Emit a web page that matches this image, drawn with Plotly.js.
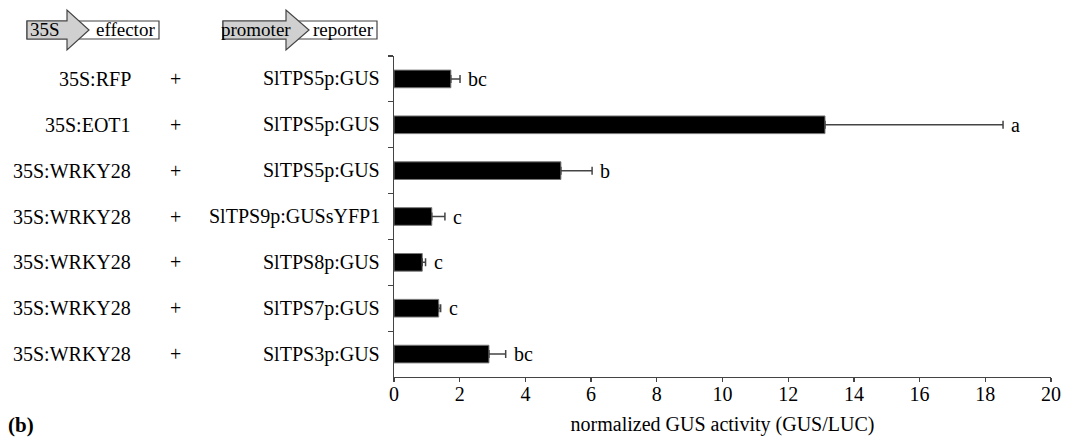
<!DOCTYPE html>
<html>
<head>
<meta charset="utf-8">
<script src="https://cdn.plot.ly/plotly-3.0.1.min.js"></script>
<style>html,body{margin:0;padding:0;background:#fff;}#chart{width:1072px;height:441px;}</style>
</head>
<body>
<div id="chart"></div>
<script>
const effectors = ["35S:RFP","35S:EOT1","35S:WRKY28","35S:WRKY28","35S:WRKY28","35S:WRKY28","35S:WRKY28"];
const reporters = ["SlTPS5p:GUS","SlTPS5p:GUS","SlTPS5p:GUS","SlTPS9p:GUSsYFP1","SlTPS8p:GUS","SlTPS7p:GUS","SlTPS3p:GUS"];
const values = [1.73, 13.12, 5.08, 1.15, 0.86, 1.36, 2.89];
const errors = [0.28, 5.42, 0.95, 0.40, 0.10, 0.06, 0.51];
const letters = ["bc","a","b","c","c","c","bc"];
const xTicks = [0,2,4,6,8,10,12,14,16,18,20];

const W = 1072, H = 441;
const L = 394, R = 1051, T = 56, B = 377;
const px = x => (x - L) / (R - L);
const py = y => (B - y) / (B - T);
const cats = values.map((v,i) => "row" + i);
const serif = "Liberation Serif, Times New Roman, serif";

const trace = {
  type: "bar", orientation: "h",
  x: values, y: cats,
  marker: {color: "#000", line: {color: "#777", width: 1}},
  error_x: {type: "data", symmetric: false, array: errors, arrayminus: values.map(()=>0),
            color: "#444", thickness: 1.5, width: 4},
  hoverinfo: "none"
};

const annotations = [];
cats.forEach((c,i) => {
  annotations.push({xref:"x", yref:"y", x: values[i]+errors[i], y: c, text: letters[i],
    showarrow:false, xanchor:"left", xshift: 6, font:{family:serif, size:20, color:"#000"}});
  annotations.push({xref:"paper", yref:"y", x: px(133), y: c, text: effectors[i],
    showarrow:false, xanchor:"right", font:{family:serif, size:20, color:"#000"}});
  annotations.push({xref:"paper", yref:"y", x: px(175), y: c, text: "+",
    showarrow:false, xanchor:"center", font:{family:serif, size:20, color:"#000"}});
  annotations.push({xref:"paper", yref:"y", x: px(382), y: c, text: reporters[i],
    showarrow:false, xanchor:"right", font:{family:serif, size:20, color:"#000"}});
});
annotations.push({xref:"paper", yref:"paper", x: px(6), y: py(425), text: "<b>(b)</b>",
  showarrow:false, xanchor:"left", yanchor:"middle", font:{family:serif, size:21, color:"#000"}});
// schematic labels
const boxFont = {family:serif, size:19, color:"#000"};
annotations.push({xref:"paper", yref:"paper", x: px(45), y: py(30), text: "35S",
  showarrow:false, xanchor:"center", yanchor:"middle", font:boxFont});
annotations.push({xref:"paper", yref:"paper", x: px(125), y: py(30), text: "effector",
  showarrow:false, xanchor:"center", yanchor:"middle", font:boxFont});
annotations.push({xref:"paper", yref:"paper", x: px(256), y: py(30), text: "promoter",
  showarrow:false, xanchor:"center", yanchor:"middle", font:boxFont});
annotations.push({xref:"paper", yref:"paper", x: px(343), y: py(30), text: "reporter",
  showarrow:false, xanchor:"center", yanchor:"middle", font:boxFont});

function arrowBox(x0, xb, xt, x1) {
  const yTop = 21, yBot = 39, hTop = 10, hBot = 50, yMid = 30;
  const shapes = [];
  shapes.push({type:"rect", xref:"paper", yref:"paper", x0:px(x0), x1:px(x1), y0:py(yBot), y1:py(yTop),
    line:{color:"#444", width:1.2}, fillcolor:"#fff", layer:"above"});
  const pts = [[x0,yTop],[xb,yTop],[xb,hTop],[xt,yMid],[xb,hBot],[xb,yBot],[x0,yBot]];
  const path = "M" + pts.map(p => px(p[0]) + "," + py(p[1])).join(" L") + " Z";
  shapes.push({type:"path", xref:"paper", yref:"paper", path: path,
    line:{color:"#444", width:1.2}, fillcolor:"#d0d0d0", layer:"above"});
  return shapes;
}
const shapes = [].concat(arrowBox(27, 67, 89, 159), arrowBox(223, 286, 309, 377));

const layout = {
  width: W, height: H,
  margin: {l: L, r: W - R, t: T, b: H - B, pad: 0},
  paper_bgcolor: "#fff", plot_bgcolor: "#fff",
  showlegend: false,
  bargap: 0.615,
  xaxis: {range: [0, 20], tickvals: xTicks, ticktext: xTicks.map(String),
    showgrid: false, zeroline: false, showline: true, linecolor: "#444", linewidth: 1.2,
    ticks: "outside", ticklen: 4, tickcolor: "#444", tickwidth: 1.2, ticklabelstandoff: -5,
    tickfont: {family: serif, size: 20, color: "#000"},
    title: {text: "normalized GUS activity (GUS/LUC)", font: {family: serif, size: 20, color: "#000"}, standoff: 12},
    fixedrange: true},
  yaxis: {type: "category", categoryorder: "array", categoryarray: cats, autorange: "reversed",
    showticklabels: false, tickson: "boundaries", ticks: "outside", ticklen: 5, tickcolor: "#444", tickwidth: 1.2,
    showgrid: false, zeroline: false, showline: true, linecolor: "#444", linewidth: 1.2, fixedrange: true},
  annotations: annotations,
  shapes: shapes
};

Plotly.newPlot("chart", [trace], layout, {displayModeBar: false, staticPlot: true});
</script>
</body>
</html>
